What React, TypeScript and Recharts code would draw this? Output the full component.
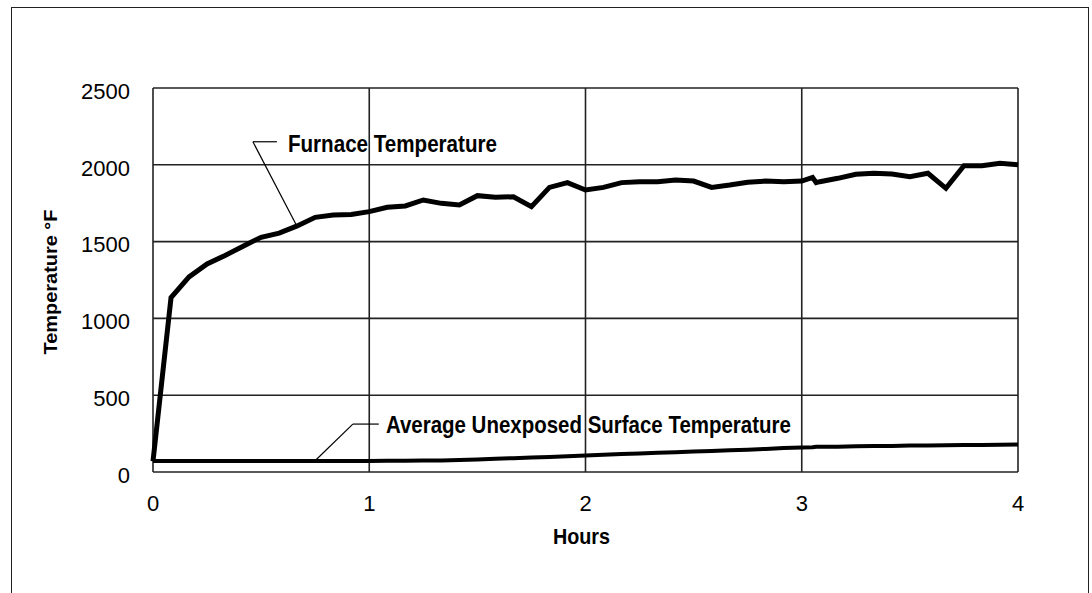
import React from "react";
import {
  CartesianGrid,
  Label,
  Line,
  LineChart,
  ReferenceDot,
  ReferenceLine,
  XAxis,
  YAxis
} from "recharts";

// test time in minutes (two extra readings near 3 h where the furnace trace steps)
const minutes = [
  0, 5, 10, 15, 20, 25, 30, 35, 40, 45, 50, 55, 60, 65, 70, 75, 80, 85, 90, 95, 100, 105, 110, 115, 120,
  125, 130, 135, 140, 145, 150, 155, 160, 165, 170, 175, 180, 183, 184, 185, 190, 195, 200, 205, 210, 215,
  220, 225, 230, 235, 240
];

const furnace = [
  70, 1135, 1270, 1355, 1410, 1470, 1528, 1555, 1602, 1658, 1673, 1677, 1695, 1723, 1732, 1771, 1749, 1738,
  1799, 1788, 1792, 1727, 1853, 1884, 1836, 1853, 1884, 1890, 1890, 1901, 1894, 1853, 1868, 1886, 1894, 1890,
  1894, 1918, 1884, 1890, 1912, 1938, 1945, 1940, 1923, 1945, 1847, 1994, 1994, 2010, 2000
];

const unexposed = [
  72, 72, 72, 72, 72, 72, 72, 72, 72, 72, 72, 72, 72, 73, 74, 75, 75, 78, 82, 86, 90, 94, 98, 102, 108, 113,
  117, 121, 125, 129, 133, 137, 141, 145, 150, 156, 160, 161, 164, 164, 165, 167, 169, 170, 172, 173, 174,
  175, 176, 178, 179
];

const xTicks = [0, 1, 2, 3, 4];
const yTicks = [0, 500, 1000, 1500, 2000, 2500];

const data = minutes.map((m, i) => ({
  hours: m / 60,
  furnace: furnace[i],
  unexposed: unexposed[i]
}));

const tickFont = { fontSize: 22, fill: "#000", fontFamily: "Liberation Sans, Arial, sans-serif" };
const boldFont = "Liberation Sans, Arial, sans-serif";

function note(text: string, width: number, size: number) {
  return (props: any) => (
    <text
      x={props.cx}
      y={props.cy}
      fontFamily={boldFont}
      fontWeight="bold"
      fontSize={size}
      fill="#000"
      textLength={width}
      lengthAdjust="spacingAndGlyphs"
    >
      {text}
    </text>
  );
}

export default function App() {
  return (
    <div style={{ position: "absolute", left: 0, top: 0, width: 1092, height: 593, overflow: "hidden", background: "#fff" }}>
      <div
        style={{
          position: "absolute",
          left: 11,
          top: 7,
          width: 1076,
          height: 640,
          border: "1.5px solid #222"
        }}
      />
      <div style={{ position: "absolute", left: 0, top: 0 }}>
        <LineChart width={1092} height={593} data={data} margin={{ top: 88, right: 74, bottom: 91, left: 93 }}>
          <CartesianGrid stroke="#222" strokeWidth={1.6} />
          <XAxis
            dataKey="hours"
            type="number"
            domain={[0, 4]}
            ticks={xTicks}
            height={30}
            axisLine={false}
            tickLine={false}
            tickSize={0}
            tickMargin={23}
            tick={tickFont}
          >
            <Label
              content={(p: any) => (
                <text
                  x={p.viewBox.x + p.viewBox.width / 2 - 4}
                  y={p.viewBox.y + 72}
                  textAnchor="middle"
                  fontFamily={boldFont}
                  fontWeight="bold"
                  fontSize={22}
                  textLength={57}
                  lengthAdjust="spacingAndGlyphs"
                >
                  Hours
                </text>
              )}
            />
          </XAxis>
          <YAxis
            type="number"
            domain={[0, 2500]}
            ticks={yTicks}
            width={60}
            axisLine={false}
            tickLine={false}
            tickSize={0}
            tickMargin={23}
            tick={{ ...tickFont, dy: 3 }}
          >
            <Label
              content={(p: any) => {
                const cx = p.viewBox.x - 36;
                const cy = p.viewBox.y + p.viewBox.height / 2 + 2;
                return (
                  <text
                    x={cx}
                    y={cy}
                    transform={`rotate(-90 ${cx} ${cy})`}
                    textAnchor="middle"
                    fontFamily={boldFont}
                    fontWeight="bold"
                    fontSize={19}
                    textLength={145}
                    lengthAdjust="spacingAndGlyphs"
                  >
                    Temperature °F
                  </text>
                );
              }}
            />
          </YAxis>

          <ReferenceLine segment={[{ x: 0.462, y: 2150 }, { x: 0.573, y: 2150 }]} stroke="#000" strokeWidth={1.2} />
          <ReferenceLine segment={[{ x: 0.462, y: 2150 }, { x: 0.664, y: 1605 }]} stroke="#000" strokeWidth={1.2} />
          <ReferenceDot x={0.624} y={2083} r={0} shape={note("Furnace Temperature", 209, 23)} />

          <ReferenceLine segment={[{ x: 0.924, y: 312 }, { x: 1.044, y: 312 }]} stroke="#000" strokeWidth={1.2} />
          <ReferenceLine segment={[{ x: 0.924, y: 312 }, { x: 0.753, y: 78 }]} stroke="#000" strokeWidth={1.2} />
          <ReferenceDot x={1.077} y={254} r={0} shape={note("Average Unexposed Surface Temperature", 405, 24)} />

          <Line
            dataKey="furnace"
            type="linear"
            stroke="#000"
            strokeWidth={5}
            dot={false}
            activeDot={false}
            isAnimationActive={false}
          />
          <Line
            dataKey="unexposed"
            type="linear"
            stroke="#000"
            strokeWidth={4}
            dot={false}
            activeDot={false}
            isAnimationActive={false}
          />
        </LineChart>
      </div>
    </div>
  );
}
